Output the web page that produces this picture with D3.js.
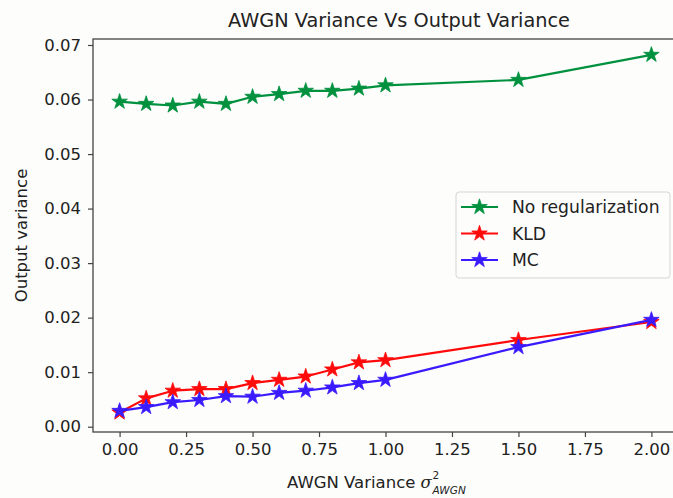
<!DOCTYPE html>
<html>
<head>
<meta charset="utf-8">
<script src="https://cdn.jsdelivr.net/npm/d3@7"></script>
<style>
  html, body { margin: 0; padding: 0; background: #fdfdfb; }
  svg { display: block; font-family: "DejaVu Sans", sans-serif; }
</style>
</head>
<body>
<svg id="chart" width="673" height="498"></svg>
<script>
const xValues = [0, 0.1, 0.2, 0.3, 0.4, 0.5, 0.6, 0.7, 0.8, 0.9, 1.0, 1.5, 2.0];
const noRegValues = [0.0596, 0.0592, 0.0589, 0.0596, 0.0592, 0.0605, 0.0610, 0.0616, 0.0616, 0.0620, 0.0626, 0.0636, 0.0682];
const kldValues = [0.0026, 0.0052, 0.0066, 0.0069, 0.0069, 0.0080, 0.0086, 0.0092, 0.0105, 0.0118, 0.0122, 0.0159, 0.0192];
const mcValues = [0.0029, 0.0036, 0.0045, 0.0049, 0.0056, 0.0055, 0.0062, 0.0066, 0.0072, 0.0080, 0.0086, 0.0146, 0.0196];
const seriesNames = ["No regularization", "KLD", "MC"];
const seriesColors = ["#00913f", "#ff0a0a", "#3a1aff"];
const xTicks = [0, 0.25, 0.5, 0.75, 1.0, 1.25, 1.5, 1.75, 2.0];
const yTicks = [0, 0.01, 0.02, 0.03, 0.04, 0.05, 0.06, 0.07];

const svg = d3.select("#chart");
const mLeft = 93, mRight = 678, mTop = 39, mBottom = 432;

const x = d3.scaleLinear().domain([-0.1, 2.1]).range([mLeft, mRight]);
const y = d3.scaleLinear().domain([-0.00097, 0.0711]).range([mBottom, mTop]);

const axisColor = "#444";
const tickFont = 16.5;

// X axis
const gx = svg.append("g").attr("transform", `translate(0,${mBottom})`)
  .call(d3.axisBottom(x).tickValues(xTicks).tickFormat(d3.format(".2f")).tickSize(5).tickPadding(6));
gx.select(".domain").remove();
gx.selectAll("line").attr("stroke", axisColor).attr("stroke-width", 1.2);
gx.selectAll("text").attr("font-size", tickFont).attr("fill", "#222").attr("font-family", "DejaVu Sans");

// Y axis
const gy = svg.append("g").attr("transform", `translate(${mLeft},0)`)
  .call(d3.axisLeft(y).tickValues(yTicks).tickFormat(d3.format(".2f")).tickSize(5).tickPadding(7));
gy.select(".domain").remove();
gy.selectAll("line").attr("stroke", axisColor).attr("stroke-width", 1.2);
gy.selectAll("text").attr("font-size", tickFont).attr("fill", "#222").attr("font-family", "DejaVu Sans");

// Frame
svg.append("rect").attr("x", mLeft).attr("y", mTop)
  .attr("width", mRight - mLeft).attr("height", mBottom - mTop)
  .attr("fill", "none").attr("stroke", axisColor).attr("stroke-width", 1.3);

const allSeries = [noRegValues, kldValues, mcValues];
const line = d3.line().x((d, i) => x(xValues[i])).y(d => y(d));
const star = d3.symbol().type(d3.symbolStar).size(75);

allSeries.forEach((vals, si) => {
  const g = svg.append("g");
  g.append("path").datum(vals).attr("d", line)
    .attr("fill", "none").attr("stroke", seriesColors[si]).attr("stroke-width", 2.2)
    .attr("stroke-linejoin", "round");
  g.selectAll("path.m").data(vals).enter().append("path").attr("class", "m")
    .attr("d", star)
    .attr("transform", (d, i) => `translate(${x(xValues[i])},${y(d)})`)
    .attr("fill", seriesColors[si]).attr("stroke", seriesColors[si]).attr("stroke-width", 0.8);
});

// Legend
const lg = svg.append("g");
lg.append("rect").attr("x", 456).attr("y", 192).attr("width", 214).attr("height", 86)
  .attr("rx", 3).attr("fill", "#fdfdfb").attr("fill-opacity", 0.85)
  .attr("stroke", "#d5d5d5").attr("stroke-width", 1);
seriesNames.forEach((name, i) => {
  const yy = 207 + i * 26.5;
  lg.append("line").attr("x1", 461).attr("x2", 498).attr("y1", yy).attr("y2", yy)
    .attr("stroke", seriesColors[i]).attr("stroke-width", 2.2);
  lg.append("path").attr("d", star).attr("transform", `translate(479.5,${yy})`)
    .attr("fill", seriesColors[i]).attr("stroke", seriesColors[i]).attr("stroke-width", 0.8);
  lg.append("text").attr("x", 512).attr("y", yy).attr("dy", "0.36em")
    .attr("font-size", 17.2).attr("fill", "#222").text(name);
});

// Title
svg.append("text").attr("x", 399).attr("y", 27)
  .attr("text-anchor", "middle").attr("font-size", 19.3).attr("fill", "#222")
  .text("AWGN Variance Vs Output Variance");

// X label: main text, sigma, superscript and subscript as separate texts
const xlMain = svg.append("text").attr("x", 287).attr("y", 488)
  .attr("font-size", tickFont).attr("fill", "#222");
xlMain.append("tspan").text("AWGN Variance ");
xlMain.append("tspan").attr("font-style", "italic").attr("font-family", "DejaVu Serif").text("σ");
const mainW = xlMain.node().getComputedTextLength();
svg.append("text").attr("x", 287 + mainW + 0.5).attr("y", 478.5)
  .attr("font-size", 10.5).attr("fill", "#222").text("2");
svg.append("text").attr("x", 287 + mainW + 0.5).attr("y", 494)
  .attr("font-size", 10.5).attr("font-style", "italic").attr("fill", "#222").text("AWGN");

// Y label
svg.append("text").attr("transform", `translate(27,${(mTop + mBottom) / 2}) rotate(-90)`)
  .attr("text-anchor", "middle").attr("font-size", tickFont).attr("fill", "#222")
  .text("Output variance");
</script>
</body>
</html>
